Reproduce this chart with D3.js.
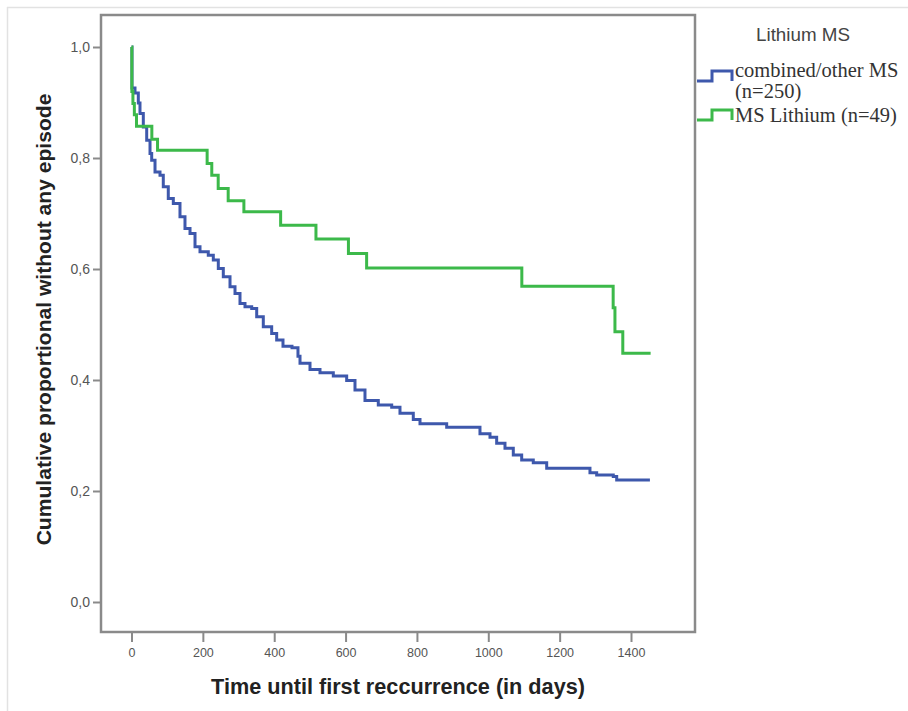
<!DOCTYPE html>
<html>
<head>
<meta charset="utf-8">
<script src="https://cdn.jsdelivr.net/npm/d3@7"></script>
<style>
  html, body { margin: 0; padding: 0; background: #fff; }
  svg { display: block; }
</style>
</head>
<body>
<svg id="chart" width="908" height="711"></svg>
<script>
// ---- data ----
const blueTimes = [0, 1.4, 9.8, 19.1, 23.8, 33.1, 42.6, 51.9, 56.6, 65.9, 79.9, 89.1, 103.1, 117.2, 135.9, 149.9, 164.0, 178.0, 192.0, 215.2, 229.3, 243.3, 257.3, 276.1, 290.1, 304.1, 318.1, 336.9, 350.9, 369.4, 392.9, 406.9, 424.6, 449.8, 466.6, 472.3, 500.3, 528.3, 565.6, 603.1, 626.4, 654.4, 691.7, 729.3, 752.5, 789.8, 808.6, 883.4, 976.7, 1004.8, 1023.5, 1046.8, 1070.1, 1093.6, 1126.1, 1163.7, 1285.0, 1303.8, 1350.3, 1359.9, 1453];
const blueSurv  = [1.0, 0.926, 0.917, 0.899, 0.880, 0.856, 0.832, 0.808, 0.796, 0.775, 0.769, 0.748, 0.727, 0.718, 0.694, 0.673, 0.664, 0.640, 0.631, 0.625, 0.616, 0.601, 0.586, 0.568, 0.556, 0.538, 0.532, 0.529, 0.514, 0.496, 0.484, 0.472, 0.461, 0.458, 0.443, 0.430, 0.419, 0.413, 0.407, 0.399, 0.382, 0.363, 0.355, 0.351, 0.340, 0.329, 0.321, 0.315, 0.303, 0.297, 0.286, 0.277, 0.265, 0.256, 0.251, 0.241, 0.233, 0.229, 0.226, 0.220, 0.220];

const greenTimes = [0, 1, 4, 8, 14, 57, 73, 212, 225, 243, 271, 315, 418, 517, 608, 659, 1094, 1350, 1355, 1377, 1455];
const greenSurv  = [1.0, 0.920, 0.898, 0.878, 0.857, 0.834, 0.814, 0.790, 0.769, 0.745, 0.723, 0.703, 0.679, 0.654, 0.628, 0.602, 0.569, 0.530, 0.487, 0.448, 0.448];

const xTicks = [0, 200, 400, 600, 800, 1000, 1200, 1400];
const yTicks = [0.0, 0.2, 0.4, 0.6, 0.8, 1.0];

const seriesNames = ["combined/other MS", "MS Lithium (n=49)"];
const legendTitle = "Lithium MS";
const xTitle = "Time until first reccurrence (in days)";
const yTitle = "Cumulative proportional without any episode";

// ---- layout ----
const svg = d3.select("#chart");
const frame = { left: 101, top: 15, right: 695, bottom: 632 };
const gray = "#8a8a8a";
const blue = "#3E58AC";
const green = "#3CB94A";

const x = d3.scaleLinear().domain([0, 1400]).range([131.5, 631]);
const y = d3.scaleLinear().domain([0, 1]).range([602, 47]);

// outer light border (top / left)
svg.append("line").attr("x1", 7).attr("x2", 908).attr("y1", 7.5).attr("y2", 7.5)
  .attr("stroke", "#e2e2e2").attr("stroke-width", 1.5);
svg.append("line").attr("x1", 7.5).attr("x2", 7.5).attr("y1", 7).attr("y2", 711)
  .attr("stroke", "#e2e2e2").attr("stroke-width", 1.5);

// plot frame
svg.append("rect")
  .attr("x", frame.left).attr("y", frame.top)
  .attr("width", frame.right - frame.left).attr("height", frame.bottom - frame.top)
  .attr("fill", "none").attr("stroke", gray).attr("stroke-width", 2.5);

// axes
const fmtY = d => d3.format(".1f")(d).replace(".", ",");
const yAxis = d3.axisLeft(y).tickValues(yTicks).tickFormat(fmtY).tickSize(8).tickPadding(3);
const gy = svg.append("g").attr("transform", `translate(${frame.left},0)`).call(yAxis);
gy.select(".domain").remove();
gy.selectAll(".tick line").attr("stroke", gray).attr("stroke-width", 2);
gy.selectAll(".tick text").attr("fill", "#555").attr("font-family", "Liberation Sans, Arial, sans-serif")
  .attr("font-size", 14);

const xAxis = d3.axisBottom(x).tickValues(xTicks).tickFormat(d3.format("d")).tickSize(10).tickPadding(6);
const gx = svg.append("g").attr("transform", `translate(0,${frame.bottom})`).call(xAxis);
gx.select(".domain").remove();
gx.selectAll(".tick line").attr("stroke", gray).attr("stroke-width", 2);
gx.selectAll(".tick text").attr("fill", "#555").attr("font-family", "Liberation Sans, Arial, sans-serif")
  .attr("font-size", 12.5);

// titles
function fit(sel, width) {
  const w = sel.node().getComputedTextLength();
  const fs = parseFloat(sel.attr("font-size"));
  sel.attr("font-size", fs * width / w);
}
const xt = svg.append("text")
  .attr("x", (frame.left + frame.right) / 2).attr("y", 694)
  .attr("text-anchor", "middle").attr("font-weight", "bold")
  .attr("font-family", "Liberation Sans, Arial, sans-serif").attr("font-size", 16)
  .attr("fill", "#222").text(xTitle);
fit(xt, 374);
const yt = svg.append("text")
  .attr("transform", `translate(51,${(frame.top + frame.bottom) / 2 - 4}) rotate(-90)`)
  .attr("text-anchor", "middle").attr("font-weight", "bold")
  .attr("font-family", "Liberation Sans, Arial, sans-serif").attr("font-size", 16)
  .attr("fill", "#222").text(yTitle);
fit(yt, 452);

// curves
const line = d3.line().x(d => x(d[0])).y(d => y(d[1])).curve(d3.curveStepAfter);
const blueData = blueTimes.map((t, i) => [t, blueSurv[i]]);
const greenData = greenTimes.map((t, i) => [t, greenSurv[i]]);

svg.append("path").datum(blueData).attr("d", line)
  .attr("fill", "none").attr("stroke", blue).attr("stroke-width", 3).attr("stroke-linejoin", "miter");
svg.append("path").datum(greenData).attr("d", line)
  .attr("fill", "none").attr("stroke", green).attr("stroke-width", 3).attr("stroke-linejoin", "miter");

// legend
const lt = svg.append("text").attr("x", 803).attr("y", 41).attr("text-anchor", "middle")
  .attr("font-family", "Liberation Sans, Arial, sans-serif").attr("font-size", 16)
  .attr("fill", "#444").text(legendTitle);
fit(lt, 94);

function legendSymbol(yBase, color) {
  const s = d3.path();
  s.moveTo(697, yBase); s.lineTo(712, yBase); s.lineTo(712, yBase - 10);
  s.lineTo(732, yBase - 10); s.lineTo(732, yBase);
  svg.append("path").attr("d", s.toString()).attr("fill", "none")
    .attr("stroke", color).attr("stroke-width", 3);
}
legendSymbol(81, blue);
legendSymbol(120, green);

const serif = "Liberation Serif, Times New Roman, serif";
svg.append("text").attr("x", 735).attr("y", 77).attr("font-family", serif)
  .attr("font-size", 20.5).attr("fill", "#333").text(seriesNames[0]);
svg.append("text").attr("x", 735).attr("y", 98).attr("font-family", serif)
  .attr("font-size", 20.5).attr("fill", "#333").text("(n=250)");
svg.append("text").attr("x", 735).attr("y", 122).attr("font-family", serif)
  .attr("font-size", 20.5).attr("fill", "#333").text(seriesNames[1]);
</script>
</body>
</html>
